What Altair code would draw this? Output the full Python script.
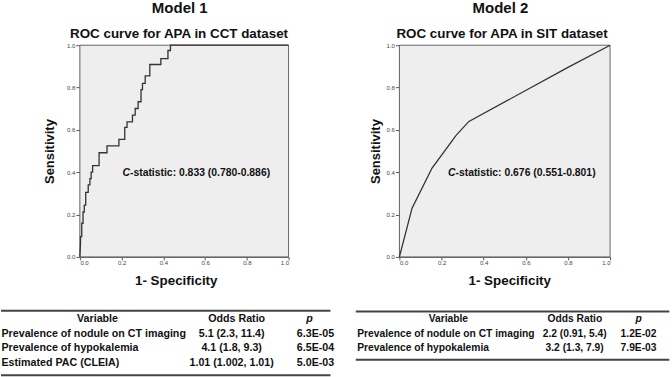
import altair as alt
import pandas as pd

FONT = "Liberation Sans"
INK = "#111111"

# ---- data ----
ticks = [0.0, 0.2, 0.4, 0.6, 0.8, 1.0]

fpr1 = [0.0, 0.003, 0.003, 0.009, 0.009, 0.015, 0.015, 0.021, 0.021, 0.028, 0.028,
        0.040, 0.040, 0.048, 0.048, 0.054, 0.054, 0.061, 0.061, 0.092, 0.092,
        0.130, 0.130, 0.187, 0.187, 0.215, 0.215, 0.226, 0.226, 0.252, 0.252,
        0.265, 0.265, 0.279, 0.279, 0.293, 0.293, 0.300, 0.300, 0.313, 0.313,
        0.335, 0.335, 0.388, 0.388, 0.422, 0.422, 0.434, 0.434, 1.0]
tpr1 = [0.0, 0.065, 0.096, 0.096, 0.159, 0.159, 0.212, 0.212, 0.245, 0.245, 0.305,
        0.305, 0.340, 0.340, 0.370, 0.370, 0.400, 0.400, 0.431, 0.431, 0.492,
        0.492, 0.524, 0.524, 0.555, 0.555, 0.612, 0.612, 0.638, 0.638, 0.670,
        0.670, 0.701, 0.701, 0.733, 0.733, 0.790, 0.790, 0.820, 0.820, 0.855,
        0.855, 0.909, 0.909, 0.937, 0.937, 0.975, 0.975, 1.000, 1.0]

fpr2 = [0.0, 0.06, 0.155, 0.27, 0.33, 0.80, 1.0]
tpr2 = [0.0, 0.23, 0.42, 0.575, 0.64, 0.895, 1.0]

model_titles = ["Model 1", "Model 2"]
roc_titles = ["ROC curve for APA in CCT dataset", "ROC curve for APA in SIT dataset"]
c_letter = "C"
c_stats = ["-statistic: 0.833 (0.780-0.886)", "-statistic: 0.676 (0.551-0.801)"]

headers = ["Variable", "Odds Ratio", "p"]
variables1 = ["Prevalence of nodule on CT imaging", "Prevalence of hypokalemia",
              "Estimated PAC (CLEIA)"]
odds1 = ["5.1 (2.3, 11.4)", "4.1 (1.8, 9.3)", "1.01 (1.002, 1.01)"]
pvals1 = ["6.3E-05", "6.5E-04", "5.0E-03"]

variables2 = ["Prevalence of nodule on CT imaging", "Prevalence of hypokalemia"]
odds2 = ["2.2 (0.91, 5.4)", "3.2 (1.3, 7.9)"]
pvals2 = ["1.2E-02", "7.9E-03"]

W, H = 336, 377
PY0, PY1 = 257, 45  # plot area bottom / top (pixels)


def text_layer(txt, x, y, size, weight="bold", style="normal", align="center",
               baseline="alphabetic", angle=0):
    df = pd.DataFrame({"t": [txt]})
    return alt.Chart(df).mark_text(
        font=FONT, fontSize=size, fontWeight=weight, fontStyle=style, color=INK,
        align=align, baseline=baseline, angle=angle
    ).encode(x=alt.value(x), y=alt.value(y), text="t:N")


def panel(fpr, tpr, mtitle, rtitle, cstat, variables, odds, pvals, L):
    sx = alt.Scale(domain=[0, 1], range=[L["x0"], L["x1"]], nice=False, zero=False)
    sy = alt.Scale(domain=[0, 1], range=[PY0, PY1], nice=False, zero=False)

    frame = pd.DataFrame({"a": [0.0], "b": [1.0]})
    bg = alt.Chart(frame).mark_rect(
        fill="#eeeeee", stroke="#666666", strokeWidth=1
    ).encode(
        x=alt.X("a:Q", scale=sx, axis=alt.Axis(
            orient="bottom", offset=-(H - PY0), values=ticks, format=".1f",
            grid=False, tickSize=3, labelPadding=0, labelFontSize=6,
            labelFont=FONT, labelColor="#444444", domainColor="#555555",
            tickColor="#555555", title="1- Specificity", titleFont=FONT,
            titleFontSize=13.4, titleFontWeight="bold", titleColor=INK,
            titleX=L["xt"], titleY=27.5, titleBaseline="alphabetic",
            titleAlign="center")),
        x2="b:Q",
        y=alt.Y("a:Q", scale=sy, axis=alt.Axis(
            orient="left", offset=-L["x0"], values=ticks, format=".1f",
            grid=False, tickSize=4, labelPadding=1, labelFontSize=6,
            labelFont=FONT, labelColor="#444444", domainColor="#555555",
            tickColor="#555555", title="Sensitivity", titleFont=FONT,
            titleFontSize=13, titleFontWeight="bold", titleColor=INK,
            titleX=L["yt"], titleY=151, titleBaseline="alphabetic",
            titleAlign="center", titleAngle=270)),
        y2="b:Q",
    )

    roc = pd.DataFrame({"fpr": fpr, "tpr": tpr, "i": list(range(len(fpr)))})
    curve = alt.Chart(roc).mark_line(color="#333333", strokeWidth=1.3).encode(
        x=alt.X("fpr:Q", scale=sx, axis=None),
        y=alt.Y("tpr:Q", scale=sy, axis=None),
        order="i:Q",
    )

    cdf = pd.DataFrame({"t": [c_letter], "u": [cstat]})
    c1 = alt.Chart(cdf).mark_text(
        font=FONT, fontSize=10.4, fontWeight="bold", fontStyle="italic",
        color=INK, align="left", baseline="middle"
    ).encode(x=alt.XDatum(L["c0"], scale=sx, axis=None),
             y=alt.YDatum(0.395, scale=sy, axis=None), text="t:N")
    c2 = alt.Chart(cdf).mark_text(
        font=FONT, fontSize=10.4, fontWeight="bold", color=INK,
        align="left", baseline="middle"
    ).encode(x=alt.XDatum(L["c1"], scale=sx, axis=None),
             y=alt.YDatum(0.395, scale=sy, axis=None), text="u:N")

    t1 = text_layer(mtitle, L["mt"], 12.7, 15)
    t2 = text_layer(rtitle, L["rt"], 38, 13.4)

    # ---- table ----
    syt = alt.Scale(domain=[0, 3], range=[319.5, 363.3], nice=False, zero=False)
    fs = L["tfs"]
    body = pd.DataFrame({"row": list(range(1, len(variables) + 1)),
                         "v": variables, "o": odds, "p": pvals})
    hdf = pd.DataFrame({"h": headers, "row": [0, 0, 0]})

    def hdr(k, x, style="normal"):
        return alt.Chart(hdf.iloc[[k]]).mark_text(
            font=FONT, fontSize=fs, fontWeight="bold", fontStyle=style,
            color=INK, align="center", baseline="middle"
        ).encode(x=alt.value(x), y=alt.Y("row:Q", scale=syt, axis=None),
                 text="h:N")

    def col(field, x, align):
        return alt.Chart(body).mark_text(
            font=FONT, fontSize=fs, fontWeight="bold", color=INK,
            align=align, baseline="middle"
        ).encode(x=alt.value(x), y=alt.Y("row:Q", scale=syt, axis=None),
                 text=f"{field}:N")

    def hline(y):
        return alt.Chart(frame).mark_rule(color="#444444", strokeWidth=2).encode(
            x=alt.value(L["tl0"]), x2=alt.value(L["tl1"]), y=alt.value(y))

    layers = [bg, curve, c1, c2, t1, t2,
              hline(L["top"]), hline(L["bot"]),
              hdr(0, L["hv"]), hdr(1, L["ho"]), hdr(2, L["hp"], "italic"),
              col("v", L["vl"], "left"), col("o", L["oc"], "center"),
              col("p", L["pc"], "center")]
    return alt.layer(*layers).resolve_scale(x="independent", y="independent") \
        .properties(width=W, height=H)


L1 = dict(x0=79, x1=288, xt=175, yt=-26, c0=0.204, c1=0.240, mt=179, rt=178.3,
          tfs=10.7, tl0=0, tl1=330, top=311, bot=375.5,
          hv=96.7, ho=236, hp=309, vl=0.5, oc=231, pc=315)
L2 = dict(x0=63, x1=274, xt=173, yt=-20, c0=0.231, c1=0.266, mt=164.2, rt=165.8,
          tfs=10.3, tl0=19.3, tl1=333.3, top=311.7, bot=360,
          hv=112, ho=238.7, hp=302.5, vl=20.7, oc=238.5, pc=302.5)

p1 = panel(fpr1, tpr1, model_titles[0], roc_titles[0], c_stats[0],
           variables1, odds1, pvals1, L1)
p2 = panel(fpr2, tpr2, model_titles[1], roc_titles[1], c_stats[1],
           variables2, odds2, pvals2, L2)

chart = alt.hconcat(p1, p2, spacing=0).properties(
    padding=0, background="white"
).configure_view(stroke=None)

chart.save("out.html", embed_options={"renderer": "svg", "actions": False})
